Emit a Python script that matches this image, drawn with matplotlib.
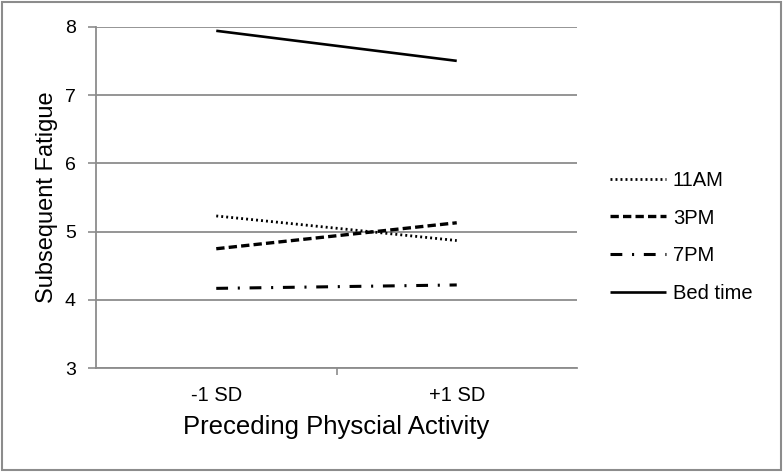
import matplotlib.pyplot as plt
from matplotlib.patches import Rectangle

plt.rcParams['font.family'] = ['Liberation Sans', 'DejaVu Sans']
plt.rcParams['lines.scale_dashes'] = False

categories = ['-1 SD', '+1 SD']
series_names = ['11AM', '3PM', '7PM', 'Bed time']
vals_11am = [5.23, 4.87]
vals_3pm = [4.75, 5.13]
vals_7pm = [4.17, 4.22]
vals_bed = [7.94, 7.50]

styles = {
    '11AM': dict(dashes=(1.4, 2.2), lw=2.0),
    '3PM': dict(dashes=(6.0, 3.0), lw=2.4),
    '7PM': dict(dashes=(8.5, 7.0, 1.5, 7.0), lw=2.2),
    'Bed time': dict(dashes=(), lw=1.9),
}
grey = '#8c8c8c'

fig = plt.figure(figsize=(7.83, 4.72), dpi=100)
ax = fig.add_axes([96 / 783, 1 - 368.3 / 472, 481 / 783, (368.3 - 26.7) / 472])

x = [0, 1]
for name, vals in zip(series_names, [vals_11am, vals_3pm, vals_7pm, vals_bed]):
    st = styles[name]
    line, = ax.plot(x, vals, color='black', lw=st['lw'], label=name,
                    solid_capstyle='butt', dash_capstyle='butt')
    if st['dashes']:
        line.set_dashes(st['dashes'])

ax.set_xlim(-0.5, 1.5)
ax.set_ylim(3, 8)
ax.set_yticks(range(3, 9))
ax.yaxis.grid(True, color=grey, lw=1.3)
ax.set_axisbelow(True)

ax.set_xticks(x)
ax.set_xticklabels(categories, fontsize=14.5)
ax.set_xticks([0.5], minor=True)
ax.tick_params(axis='x', which='major', length=0, pad=13)
ax.tick_params(axis='x', which='minor', length=5, color=grey, width=1.2)
ax.tick_params(axis='y', length=6, color=grey, width=1.2, labelsize=14, pad=8.5)

for side in ['top', 'right']:
    ax.spines[side].set_visible(False)
for side in ['left', 'bottom']:
    ax.spines[side].set_color(grey)
    ax.spines[side].set_linewidth(1.3)

ax.set_ylabel('Subsequent Fatigue', fontsize=17, labelpad=5)
ax.set_xlabel('Preceding Physcial Activity', fontsize=18.5, labelpad=7)

leg = ax.legend(loc='center left', bbox_to_anchor=(1.03, 0.385), frameon=False,
                fontsize=14.5, handlelength=2.8, handletextpad=0.35, labelspacing=0.92)

fig.patches.append(Rectangle((0.003, 0.004), 0.994, 0.992, transform=fig.transFigure,
                             fill=False, edgecolor=grey, lw=1.5))

fig.savefig('out.png', dpi=100)
